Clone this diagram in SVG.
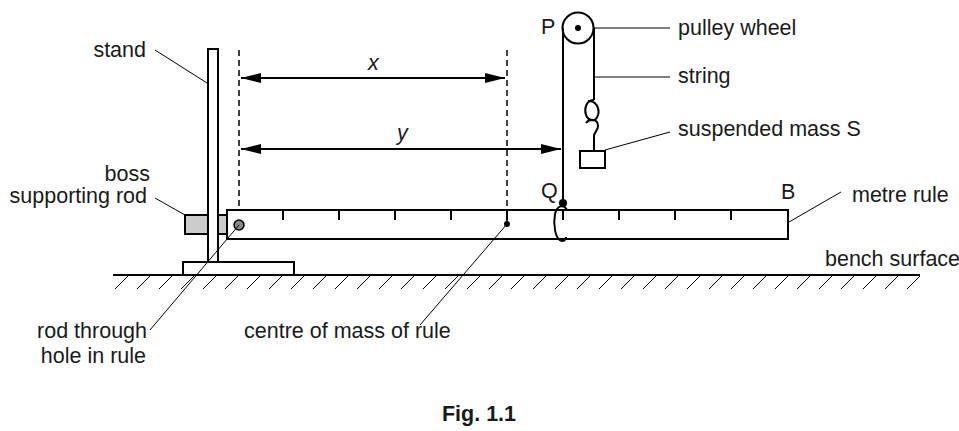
<svg xmlns="http://www.w3.org/2000/svg" width="959" height="431" viewBox="0 0 959 431">
<style>
text{font-family:"Liberation Sans",Arial,sans-serif;font-size:21.5px;fill:#1a1a1a}
.e{text-anchor:end}
.k{stroke:#000;stroke-width:2;fill:none}
.w{stroke:#000;stroke-width:2;fill:#fff}
.t{stroke:#000;stroke-width:1;fill:none}
.d{stroke:#000;stroke-width:1.5;stroke-dasharray:6,4;fill:none}
.h{stroke:#000;stroke-width:1;fill:none}
</style>
<defs>
<marker id="a" viewBox="0 0 20 10" refX="20" refY="5" markerWidth="20" markerHeight="10" markerUnits="userSpaceOnUse" orient="auto-start-reverse"><path d="M0,0L20,5L0,10z" fill="#000"/></marker>
</defs>
<g id="bench">
<line class="k" x1="113" y1="275" x2="920" y2="275"/>
<path class="h" d="M115,289l13,-13M137,289l13,-13M159,289l13,-13M181,289l13,-13M203,289l13,-13M225,289l13,-13M247,289l13,-13M269,289l13,-13M291,289l13,-13M313,289l13,-13M335,289l13,-13M357,289l13,-13M379,289l13,-13M401,289l13,-13M423,289l13,-13M445,289l13,-13M467,289l13,-13M489,289l13,-13M511,289l13,-13M533,289l13,-13M555,289l13,-13M577,289l13,-13M599,289l13,-13M621,289l13,-13M643,289l13,-13M665,289l13,-13M687,289l13,-13M709,289l13,-13M731,289l13,-13M753,289l13,-13M775,289l13,-13M797,289l13,-13M819,289l13,-13M841,289l13,-13M863,289l13,-13M885,289l13,-13M907,289l13,-13"/>
</g>
<g id="boss"><rect x="185" y="215" width="42" height="19" fill="#ccc" stroke="#000" stroke-width="2"/></g>
<g id="stand">
<rect class="w" x="208" y="49" width="10" height="213"/>
<rect class="w" x="183" y="262" width="111" height="13"/>
</g>
<g id="rule">
<rect class="w" x="227" y="210" width="561" height="29"/>
<path class="k" d="M283,210v10M339,210v10M395,210v10M451,210v10M507,210v10M563,210v10M619,210v10M675,210v10M731,210v10"/>
<circle cx="239" cy="225" r="5" fill="#888" stroke="#000" stroke-width="1.5"/>
<circle cx="507" cy="224" r="3" fill="#000"/>
</g>
<g id="pulley">
<circle class="w" cx="578" cy="28" r="15.5"/>
<circle cx="578" cy="28" r="3" fill="#000"/>
<line class="k" x1="563" y1="28" x2="563" y2="205"/>
<line class="k" x1="594" y1="28" x2="594" y2="100"/>
<path class="k" d="M594,100c-8,0 -10,9 -8,15c3,7 10,7 12,0c2,-6 -2,-15 -10,-14M586,123c4,-5 12,-4 12,3c0,5 -4,6 -4,10v15"/>
<rect class="w" x="580" y="151" width="25" height="17"/>
<circle cx="563" cy="203" r="4" fill="#000"/>
<path class="k" d="M567,210c-3,-6 -10,-5 -12,4c-2,10 0,26 7,27c4,0 4,-4 4,-4"/>
</g>
<g id="connectors">
<line class="d" x1="239" y1="50" x2="239" y2="210"/>
<line class="d" x1="507" y1="50" x2="507" y2="224"/>
<line class="k" x1="241" y1="78" x2="505" y2="78" marker-start="url(#a)" marker-end="url(#a)"/>
<line class="k" x1="241" y1="149" x2="561" y2="149" marker-start="url(#a)" marker-end="url(#a)"/>
<line class="t" x1="155" y1="50" x2="207" y2="83"/>
<line class="t" x1="155" y1="198" x2="185" y2="215"/>
<line class="t" x1="150" y1="330" x2="239" y2="225"/>
<line class="t" x1="420" y1="325" x2="507" y2="224"/>
<line class="t" x1="594" y1="28" x2="670" y2="28"/>
<line class="t" x1="594" y1="77" x2="670" y2="77"/>
<line class="t" x1="605" y1="150" x2="670" y2="132"/>
<line class="t" x1="789" y1="222" x2="841" y2="192"/>
</g>
<g id="labels">
<text class="e" x="146" y="57">stand</text>
<text class="e" x="150" y="181">boss</text>
<text class="e" x="147" y="203">supporting rod</text>
<text class="e" x="147" y="338">rod through</text>
<text class="e" x="146" y="363">hole in rule</text>
<text x="244" y="338">centre of mass of rule</text>
<text x="368" y="70" font-style="italic">x</text>
<text x="397" y="140" font-style="italic">y</text>
<text x="541" y="34">P</text>
<text x="541" y="198">Q</text>
<text x="781" y="199">B</text>
<text x="678" y="35">pulley wheel</text>
<text x="678" y="83">string</text>
<text x="678" y="136">suspended mass S</text>
<text x="852" y="202">metre rule</text>
<text x="825" y="266">bench surface</text>
<text x="479" y="421" text-anchor="middle" font-weight="bold">Fig. 1.1</text>
</g>
</svg>
